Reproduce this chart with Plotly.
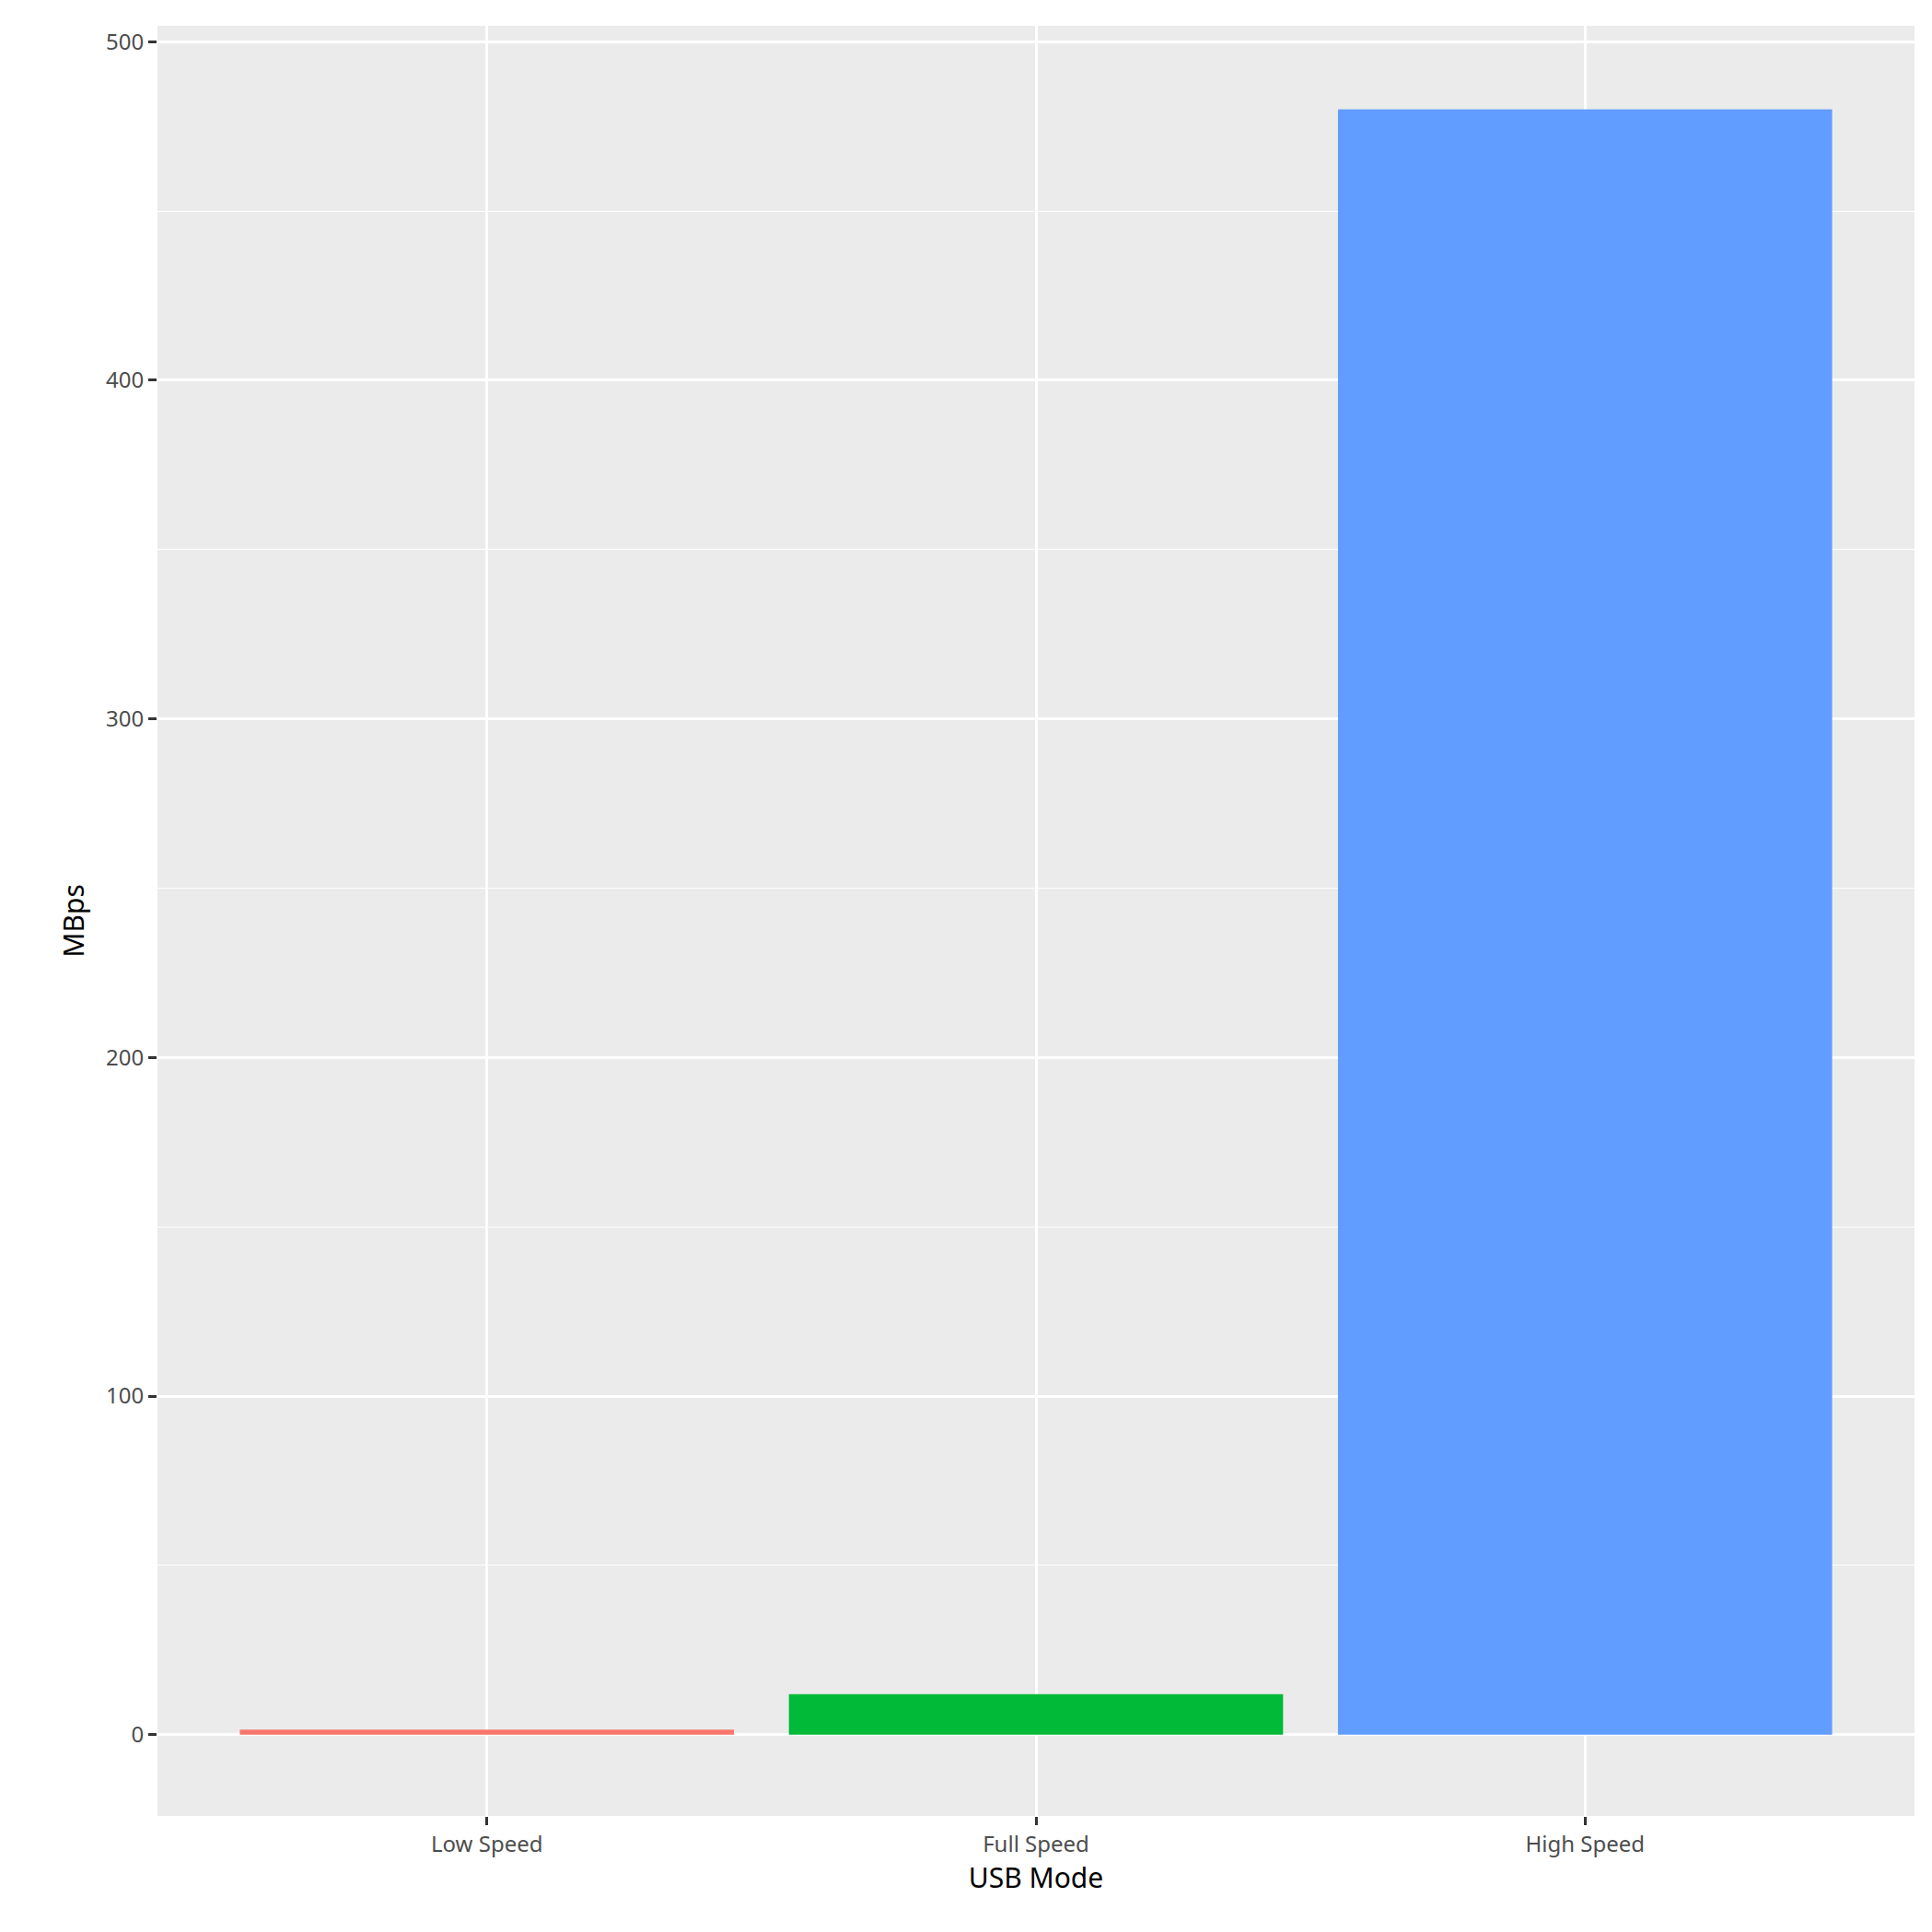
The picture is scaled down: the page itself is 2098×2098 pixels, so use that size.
import plotly.graph_objects as go

modes = ["Low Speed", "Full Speed", "High Speed"]
mbps = [1.5, 12, 480]
colors = ["#F8766D", "#00BA38", "#619CFF"]

fig = go.Figure(go.Bar(x=modes, y=mbps, marker=dict(color=colors, line=dict(width=0)), width=0.9))

fig.update_layout(
    width=2098, height=2098,
    paper_bgcolor="white",
    plot_bgcolor="#EBEBEB",
    showlegend=False,
    bargap=0.1,
    margin=dict(l=163, r=27, t=20, b=134),
    font=dict(family="Noto Sans", color="#4D4D4D"),
    xaxis=dict(
        title=dict(text="USB Mode", font=dict(size=30, color="black"), standoff=12),
        tickfont=dict(size=24, color="#4D4D4D"),
        showgrid=True, gridcolor="white", gridwidth=2.5,
        ticks="outside", ticklen=9, tickcolor="#333333", tickwidth=2.5,
        showline=False, zeroline=False,
        range=[-0.6, 2.6],
    ),
    yaxis=dict(
        title=dict(text="MBps", font=dict(size=30, color="black"), standoff=14),
        tickfont=dict(size=24, color="#4D4D4D"),
        range=[-24, 504.7],
        tickvals=[0, 100, 200, 300, 400, 500],
        showgrid=True, gridcolor="white", gridwidth=2.5,
        minor=dict(tickvals=[50, 150, 250, 350, 450], showgrid=True, gridcolor="white", gridwidth=1.2),
        ticks="outside", ticklen=9, tickcolor="#333333", tickwidth=2.5,
        showline=False, zeroline=False,
    ),
)

fig.write_html("out.html")
